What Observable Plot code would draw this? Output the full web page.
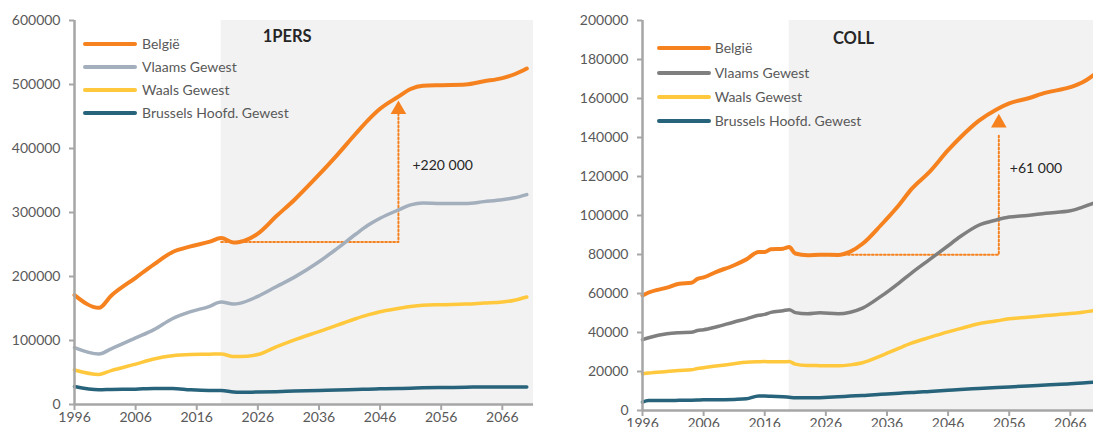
<!DOCTYPE html>
<html><head><meta charset="utf-8">
<script src="https://cdn.jsdelivr.net/npm/d3@7"></script>
<script src="https://cdn.jsdelivr.net/npm/@observablehq/plot@0.6"></script>
<style>
html,body{margin:0;padding:0;background:#fff;overflow:hidden;}
#wrap{position:relative;width:1093px;height:427px;overflow:hidden;display:flex;}
.panel{position:relative;flex:none;}
.legend{position:absolute;left:0;top:0;font-family:Lato,sans-serif;font-size:14px;color:#595959;}
.legend .row{position:absolute;display:flex;align-items:center;white-space:nowrap;height:16px;line-height:16px;}
.legend .sw{display:inline-block;width:54px;height:4px;border-radius:2px;}
</style></head><body><div id="wrap"></div><script>
// ---------- data ----------
const seriesNames = ["België", "Vlaams Gewest", "Waals Gewest", "Brussels Hoofd. Gewest"];
const xTicks = [1996, 2006, 2016, 2026, 2036, 2046, 2056, 2066];
const yTicksP = [0, 100000, 200000, 300000, 400000, 500000, 600000];
const yTicksC = [0, 20000, 40000, 60000, 80000, 100000, 120000, 140000, 160000, 180000, 200000];

// 1PERS panel
const yearsP = [1996,2000,2002,2006,2009,2012,2015,2018,2020,2022,2023,2026,2029,2032,2036,2039,2042,2044,2046,2049,2051,2053,2056,2060,2063,2066,2068,2070];
const belgieP  = [171000,151000,170000,198000,219000,238000,247000,254000,260000,253000,254000,267000,294000,320000,359000,390000,423000,444000,462000,481000,493000,498000,499000,500000,505000,510000,516000,525000];
const vlaamsP  = [89000,79000,87000,104000,117000,134000,145000,153000,160000,157000,158000,169000,184000,199000,223000,244000,266000,280000,291000,304000,312000,315000,314000,314000,317000,320000,323000,328000];
const waalsP   = [54000,47000,53000,63000,71000,76000,78000,78500,79000,75000,75000,78000,90000,101000,114000,124000,134000,140000,145000,150000,153000,155000,156000,157000,158500,160000,163000,168000];
const brusselP = [28000,23000,23500,24000,25000,25000,23000,22000,22000,19500,19000,19500,20000,21000,22000,22500,23500,24000,24500,25000,25500,26000,26500,27000,27500,27500,27500,27500];

// COLL panel
const yearsC = [1996,1997,2000,2002,2004,2005,2006,2008,2011,2013,2015,2016,2017,2019,2020,2021,2023,2025,2028,2030,2032,2035,2038,2040,2043,2046,2048,2051,2054,2056,2059,2062,2066,2068,2070];
const belgieC  = [59000,60500,63000,65000,65500,67500,68300,71000,74500,77500,81300,81300,82700,83000,83800,80500,79600,79900,79800,81500,85500,95000,105500,113500,122500,133500,140000,148500,154500,157500,160000,163000,165800,168300,172500];
const vlaamsC  = [36300,37300,39400,39900,40100,41000,41400,42800,45400,47000,48800,49300,50300,51200,51700,50200,49600,50100,49600,50400,52500,58500,65500,70500,77500,84500,89200,95000,97800,99200,100000,101200,102400,104300,106500];
const waalsC   = [18800,19200,20000,20500,20900,21500,21900,22800,24000,24700,25000,25100,25000,25000,25100,23800,23100,23000,22900,23400,24500,28000,32000,34500,37500,40300,42000,44500,46000,47000,47800,48700,49700,50400,51300];
const brusselC = [4300,5100,5100,5200,5300,5400,5500,5500,5700,6000,7500,7400,7300,7000,6800,6600,6500,6600,7000,7400,7700,8300,8900,9200,9800,10400,10800,11300,11800,12100,12600,13100,13700,14100,14500];

// projection period & annotations
const projStart = [2020];
const xEnd = [2071.1];
const titleP = ["1PERS"], titleC = ["COLL"];
const annotPx = [2020, 2049, 2049], annotPy = [254000, 254000, 455000];
const headP = {x: 2049, y: 461000};
const labelP = {x: 2051.3, y: 373000, text: "+220 000"};
const annotCx = [2027, 2054.3, 2054.3], annotCy = [79900, 79900, 141000];
const headC = {x: 2054.3, y: 147500};
const labelC = {x: 2056.1, y: 124000, text: "+61 000"};

const colorsP = ["#F5821F", "#A3AFBC", "#FFC83D", "#27637A"];
const colorsC = ["#F5821F", "#7F7F7F", "#FFC83D", "#27637A"];

function longTable(years, arrays) {
  const out = [];
  arrays.forEach((arr, i) => arr.forEach((v, j) => out.push({year: years[j], value: v, series: seriesNames[i]})));
  return out;
}

function panel(cfg) {
  const data = longTable(cfg.years, cfg.values);
  const annot = cfg.ax.map((x, i) => ({x, y: cfg.ay[i]}));
  const fmt = d => String(d);
  const plot = Plot.plot({
    width: cfg.width, height: 427,
    marginLeft: cfg.ml, marginRight: 13, marginTop: 20, marginBottom: cfg.mb,
    style: {fontFamily: "Lato, sans-serif", fontSize: "14px", color: "#595959", background: "transparent"},
    x: {domain: [1996, xEnd[0]]},
    y: {domain: [0, cfg.ymax]},
    color: {domain: seriesNames, range: cfg.colors},
    marks: [
      Plot.rect(projStart, {x1: d => d, x2: () => xEnd[0], y1: () => 0, y2: () => cfg.ymax, fill: "#F2F2F2"}),
      Plot.line(annot, {x: "x", y: "y", stroke: "#F5821F", strokeWidth: 2, strokeDasharray: "1.8,2.2"}),
      Plot.dot([cfg.head], {x: "x", y: "y", symbol: "triangle", r: 5.8, fill: "#F5821F", stroke: "none"}),
      Plot.line(data.filter(d => d.series !== seriesNames[0]), {x: "year", y: "value", z: "series", stroke: "series", strokeWidth: 3.5, curve: "monotone-x"}),
      Plot.line(data.filter(d => d.series === seriesNames[0]), {x: "year", y: "value", stroke: "series", strokeWidth: 4, curve: "monotone-x"}),
      Plot.text([cfg.label], {x: "x", y: "y", text: "text", textAnchor: "start", fill: "#262626", fontSize: 14}),
      Plot.text(cfg.title, {frameAnchor: "top-left", dx: cfg.tdx, dy: cfg.tdy, textAnchor: "middle", lineAnchor: "middle", fontWeight: "bold", fontSize: 16.5, fill: "#262626"}),
      Plot.axisY({ticks: cfg.yTicks, tickFormat: fmt, tickSize: 5, tickPadding: 9, stroke: "#A6A6A6", strokeWidth: 2, fill: "#595959", fontSize: 14}),
      Plot.axisX({ticks: xTicks, tickFormat: fmt, tickSize: 6, tickPadding: 2, stroke: "#A6A6A6", strokeWidth: 2, fill: "#595959", fontSize: 14}),
      Plot.ruleX([1996], {y1: () => 0, y2: () => cfg.ymax, stroke: "#A6A6A6", strokeWidth: 2.5}),
      Plot.ruleY([0], {x1: () => 1996, x2: () => xEnd[0], stroke: "#A6A6A6", strokeWidth: 2.5})
    ]
  });
  const div = document.createElement("div");
  div.className = "panel";
  div.style.width = cfg.width + "px";
  div.appendChild(plot);
  const leg = document.createElement("div");
  leg.className = "legend";
  seriesNames.forEach((name, i) => {
    const row = document.createElement("div");
    row.className = "row";
    row.style.left = cfg.legX + "px";
    row.style.top = (cfg.legY + i * cfg.legDy - 8) + "px";
    const sw = document.createElement("span");
    sw.className = "sw";
    sw.style.background = cfg.colors[i];
    sw.style.marginRight = cfg.legGap + "px";
    const tx = document.createElement("span");
    tx.textContent = name;
    row.appendChild(sw); row.appendChild(tx);
    leg.appendChild(row);
  });
  div.appendChild(leg);
  return div;
}

const wrap = document.getElementById("wrap");
wrap.appendChild(panel({
  width: 546, ml: 74, mb: 23, ymax: 600000, yTicks: yTicksP,
  years: yearsP, values: [belgieP, vlaamsP, waalsP, brusselP], colors: colorsP,
  ax: annotPx, ay: annotPy, head: headP, label: labelP,
  title: titleP, tdx: 212.7, tdy: 16.7,
  legX: 83, legY: 44.3, legDy: 22.8, legGap: 5
}));
wrap.appendChild(panel({
  width: 568, ml: 96, mb: 17, ymax: 200000, yTicks: yTicksC,
  years: yearsC, values: [belgieC, vlaamsC, waalsC, brusselC], colors: colorsC,
  ax: annotCx, ay: annotCy, head: headC, label: labelC,
  title: titleC, tdx: 211, tdy: 18,
  legX: 110.7, legY: 48.3, legDy: 24.2, legGap: 4
}));
</script></body></html>
